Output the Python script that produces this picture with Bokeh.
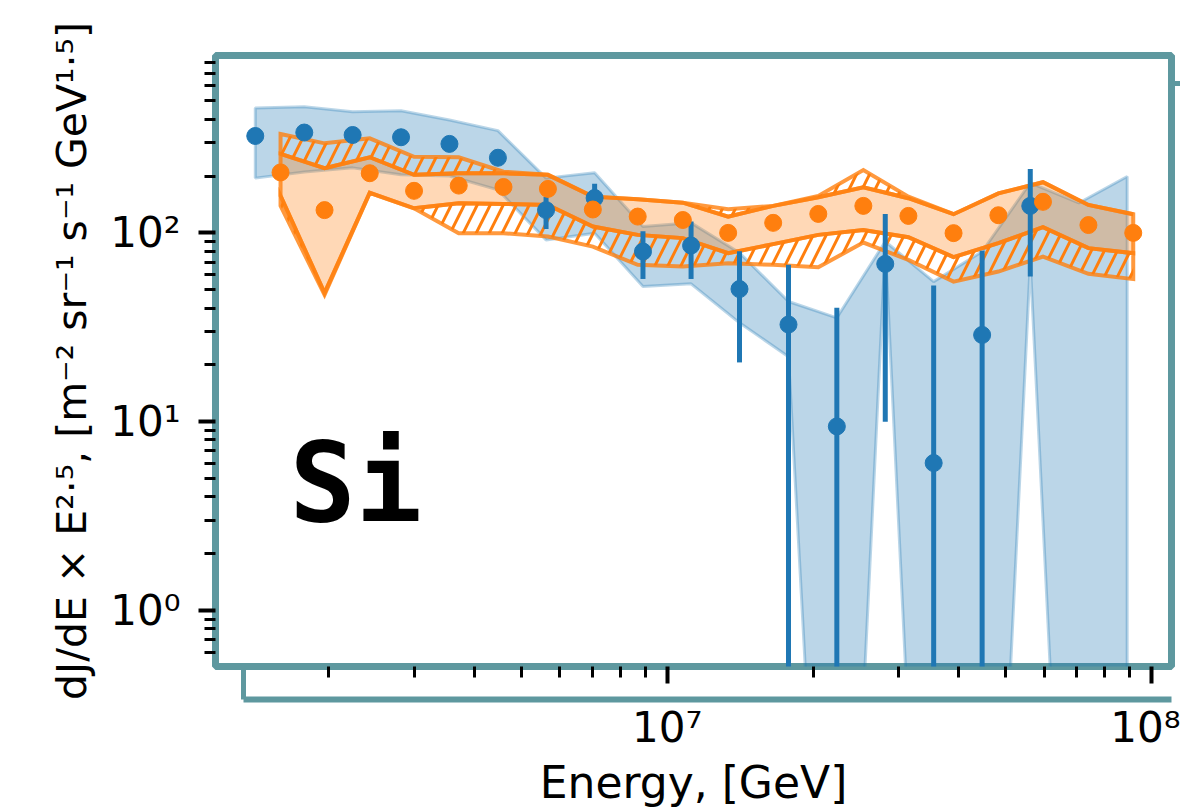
from bokeh.plotting import figure
from bokeh.models import FixedTicker, Label, LogAxis
from bokeh.embed import file_html
from bokeh.resources import INLINE

# ---------------- data ----------------
blue_energy = [1.41e6, 1.78e6, 2.24e6, 2.82e6, 3.55e6, 4.47e6, 5.62e6, 7.08e6, 8.91e6,
               1.12e7, 1.41e7, 1.78e7, 2.24e7, 2.82e7, 3.55e7, 4.47e7, 5.62e7, 7.08e7, 8.91e7]
blue_flux = [326, 340, 330, 321, 296, 250, 132, 153, 79.6, 85.7, 50.4, 32.7, 9.44, 68.5, 6.04, 28.8, 139]
blue_err_high = [326, 340, 330, 321, 296, 250, 155, 182, 102, 115, 80, 67.8, 40.1, 126, 52.6, 80.4, 218]
blue_err_low = [326, 340, 330, 321, 296, 250, 105, 130, 57, 57, 20.6, 0.001, 0.001, 10.0, 0.001, 0.001, 58.7]
blue_band_high = [458, 466, 438, 444, 396, 348, 195, 208, 108, 113, 78.4, 43.3, 35.5, 90, 55.2, 79.6, 184, 144, 199]
blue_band_low = [195, 210, 221, 203, 200, 169, 91.8, 99.6, 52, 53.7, 33.4, 22.1, 0.0004, 85, 0.0004, 0.0004, 70, 0.0004, 0.0004]

orange_energy = [1.59e6, 1.96e6, 2.43e6, 3.00e6, 3.71e6, 4.59e6, 5.67e6, 7.02e6, 8.69e6, 1.077e7,
                 1.336e7, 1.655e7, 2.051e7, 2.541e7, 3.148e7, 3.902e7, 4.829e7, 5.97e7, 7.41e7, 9.17e7]
orange_flux = [209, 132, 207, 167, 178, 175, 171, 133, 122, 117, 100, 113, 126, 139, 123, 99.7, 124, 146, 110, 100]
orange_stat_high = [262, 220, 251.5, 203, 207, 207, 203, 155.6, 150.8, 144.6, 122, 139, 154.5, 174.5, 152.6, 125.6, 162, 185.5, 140.6, 125.6]
orange_stat_low = [157, 48, 163, 135, 143.6, 142.3, 140.6, 108, 97.6, 93.8, 78.1, 87.2, 97.6, 103.7, 94.9, 74.4, 88.2, 107.2, 83, 78.1]
orange_sys_high = [334, 298, 317, 253, 251.5, 211, 203, 155.6, 150.8, 144.6, 133.5, 139, 157, 215, 155.6, 125.6, 162, 185.5, 140.6, 125.6]
orange_sys_low = [139, 47, 163, 135, 99.6, 99.6, 95.6, 84.6, 67.7, 66.3, 69.1, 67.7, 65.8, 88.9, 71.9, 55.2, 62.4, 74.9, 60.7, 56.9]

x_major = [1e7, 1e8]
x_major_labels = ["10\u2077", "10\u2078"]
x_minor = [2e6, 3e6, 4e6, 5e6, 6e6, 7e6, 8e6, 9e6, 2e7, 3e7, 4e7, 5e7, 6e7, 7e7, 8e7, 9e7]
y_major = [1, 10, 100]
y_major_labels = ["10\u2070", "10\u00b9", "10\u00b2"]
y_minor = [0.5, 0.6, 0.7, 0.8, 0.9, 2, 3, 4, 5, 6, 7, 8, 9, 20, 30, 40, 50, 60, 70, 80, 90,
           200, 300, 400, 500, 600, 700, 800]

element_name = "Si"
x_label = "Energy, [GeV]"
y_label = "dJ/dE \u00d7 E\u00b2\u00b7\u2075, [m\u207b\u00b2 sr\u207b\u00b9 s\u207b\u00b9 GeV\u00b9\u00b7\u2075]"

# corner positions of the offset frame behind the panel (axis coordinates)
back_frame_left = 1.334e6
back_frame_top = 622

BLUE = "#1f77b4"
ORANGE = "#ff7f0e"
TEAL = "#5e989f"
FONT = "DejaVu Sans"

# ---------------- figure ----------------
p = figure(width=1180, height=810, x_axis_type="log", y_axis_type="log",
           x_range=(1.167e6, 1.10e8), y_range=(0.505, 870),
           output_backend="svg", toolbar_location=None)
p.min_border_left = 215
p.min_border_right = 9
p.min_border_top = 55
p.min_border_bottom = 143
p.background_fill_color = "white"
p.border_fill_color = "white"
p.outline_line_color = TEAL
p.outline_line_width = 7
p.xgrid.visible = False
p.ygrid.visible = False

# main bottom axis: ticks only
xa = p.xaxis[0]
xa.ticker = FixedTicker(ticks=x_major, minor_ticks=x_minor)
xa.major_label_text_color = None
xa.major_label_standoff = 0

# left axis
ya = p.yaxis[0]
ya.ticker = FixedTicker(ticks=y_major, minor_ticks=y_minor)
ya.major_label_overrides = dict(zip(y_major, y_major_labels))
ya.major_label_text_font = FONT
ya.major_label_text_font_size = "42px"
ya.major_label_text_color = "black"
ya.major_label_standoff = 18
ya.axis_label = y_label
ya.axis_label_text_font = FONT
ya.axis_label_text_font_style = "normal"
ya.axis_label_text_color = "black"
ya.axis_label_text_font_size = "41px"
ya.axis_label_standoff = 11

for ax in (xa, ya):
    ax.axis_line_color = None
    ax.major_tick_in = 0
    ax.major_tick_out = 17
    ax.minor_tick_in = 0
    ax.minor_tick_out = 11
    ax.major_tick_line_width = 4
    ax.minor_tick_line_width = 3
    ax.major_tick_line_color = "black"
    ax.minor_tick_line_color = "black"

# invisible spacer axis between the ticks and the offset spine
spacer = LogAxis(ticker=FixedTicker(ticks=x_major), axis_line_color=None,
                 major_tick_in=0, major_tick_out=16, major_tick_line_color=None,
                 minor_tick_in=0, minor_tick_out=0, minor_tick_line_color=None,
                 major_label_text_color=None, major_label_standoff=0)
p.add_layout(spacer, "below")

# offset spine of the panel behind, carrying the tick labels and the axis label
spine = LogAxis(ticker=FixedTicker(ticks=x_major, minor_ticks=[back_frame_left]),
                bounds=(back_frame_left, 1.10e8),
                axis_line_color=TEAL, axis_line_width=6,
                major_tick_in=0, major_tick_out=0, major_tick_line_color=None,
                minor_tick_in=33, minor_tick_out=0, minor_tick_line_color=TEAL,
                minor_tick_line_width=5,
                major_label_overrides=dict(zip(x_major, x_major_labels)),
                major_label_text_font=FONT, major_label_text_font_size="42px",
                major_label_text_color="black", major_label_standoff=3,
                axis_label=x_label, axis_label_text_font=FONT,
                axis_label_text_font_style="normal", axis_label_text_color="black",
                axis_label_text_font_size="44px", axis_label_standoff=2)
p.add_layout(spine, "below")

# right side: top corner of the panel behind
right = LogAxis(ticker=FixedTicker(ticks=[], minor_ticks=[back_frame_top]),
                axis_line_color=None, major_tick_in=0, major_tick_out=0,
                minor_tick_in=0, minor_tick_out=9, minor_tick_line_color=TEAL,
                minor_tick_line_width=5, major_label_text_color=None, major_label_standoff=0)
p.add_layout(right, "right")

# ---------------- bands ----------------
n_blue = len(blue_flux)
p.patch(blue_energy + blue_energy[::-1], blue_band_high + blue_band_low[::-1],
        fill_color=BLUE, fill_alpha=0.3, line_color=BLUE, line_alpha=0.3, line_width=3)

p.patch(orange_energy + orange_energy[::-1], orange_stat_high + orange_stat_low[::-1],
        fill_color=ORANGE, fill_alpha=0.3, line_color=ORANGE, line_alpha=0.8,
        line_width=4, line_join="miter")
p.patch(orange_energy + orange_energy[::-1], orange_sys_high + orange_stat_high[::-1],
        fill_color=None, hatch_pattern="/", hatch_color=ORANGE, hatch_scale=26, hatch_weight=3,
        line_color=ORANGE, line_alpha=0.8, line_width=4, line_join="miter")
p.patch(orange_energy + orange_energy[::-1], orange_stat_low + orange_sys_low[::-1],
        fill_color=None, hatch_pattern="/", hatch_color=ORANGE, hatch_scale=26, hatch_weight=3,
        line_color=ORANGE, line_alpha=0.8, line_width=4, line_join="miter")

# ---------------- points ----------------
p.segment(x0=blue_energy[:n_blue], y0=blue_err_low, x1=blue_energy[:n_blue], y1=blue_err_high,
          line_color=BLUE, line_width=5)
p.scatter(blue_energy[:n_blue], blue_flux, size=17, color=BLUE)
p.scatter(orange_energy, orange_flux, size=17, color=ORANGE)

# ---------------- texts ----------------
p.add_layout(Label(x=74, y=184, x_units="screen", y_units="screen", text=element_name,
                   text_font="DejaVu Sans Mono", text_font_style="bold", text_font_size="110px",
                   text_color="black", text_baseline="alphabetic"))
# x label of the panel above, cut by the top edge
p.add_layout(Label(x=477, y=669.5, x_units="screen", y_units="screen", text=x_label,
                   text_font=FONT, text_font_size="44px", text_color="black",
                   text_align="center", text_baseline="alphabetic"))

open("out.html", "w").write(file_html(p, INLINE))
